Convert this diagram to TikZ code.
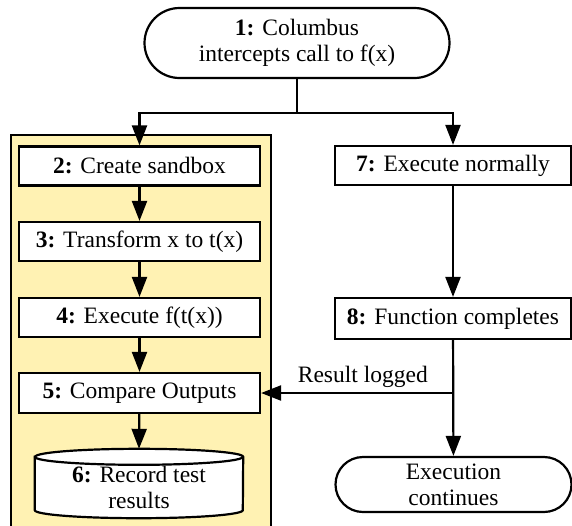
\documentclass[tikz,border=0pt]{standalone}
\usepackage{fontspec}
\setmainfont{Liberation Serif}
\usetikzlibrary{arrows.meta,shapes.misc,calc}

\definecolor{panelyellow}{HTML}{FFF2B3}

\tikzset{
  every node/.style={font=\fontsize{23.5}{26}\selectfont, align=center, inner sep=0pt},
  line/.style={line width=2.2pt},
  arrow/.style={line, -{Triangle[length=20pt,width=15pt]}},
  procbox/.style={draw, line width=2.2pt, fill=white, minimum width=241pt, minimum height=39pt},
  sidebox/.style={draw, line width=2.2pt, fill=white, minimum width=236pt, minimum height=39pt},
  terminal/.style={draw, line width=2.2pt, fill=white, rounded rectangle},
  sandbox/.style={draw, line width=2.2pt, fill=panelyellow, minimum width=260pt, minimum height=410pt},
}

\begin{document}
\begin{tikzpicture}[x=1pt,y=1pt]
\useasboundingbox (0,0) rectangle (572,-525);

% sandboxed branch background
\node[sandbox] (panel) at (141,-340) {};

% start terminal
\node[terminal, minimum width=305pt, minimum height=70pt] (n1) at (297,-43)
  {\textbf{1:} Columbus\\intercepts call to f(x)};

% sandboxed steps
\node[procbox] (n2) at (139.5,-166)   {\textbf{2:} Create sandbox};
\node[procbox] (n3) at (139.5,-241.5) {\textbf{3:} Transform x to t(x)};
\node[procbox] (n4) at (139.5,-317.5) {\textbf{4:} Execute f(t(x))};
\node[procbox, minimum height=40pt] (n5) at (139.5,-393) {\textbf{5:} Compare Outputs};

% record store (cylinder)
\node[minimum width=208pt, minimum height=69pt] (n6) at (139,-483.5) {};
\draw[line, fill=white]
  ($(n6.north west)+(0,-8)$) -- ($(n6.south west)+(0,8)$)
  arc[start angle=180, end angle=360, x radius=104, y radius=8]
  -- ($(n6.north east)+(0,-8)$)
  arc[start angle=0, end angle=180, x radius=104, y radius=8] -- cycle;
\draw[line] ($(n6.north west)+(0,-8)$)
  arc[start angle=180, end angle=360, x radius=104, y radius=8];
\node (n6t) at (139,-487) {\textbf{6:} Record test\\results};

% normal branch
\node[sidebox] (n7) at (453,-165.5) {\textbf{7:} Execute normally};
\node[sidebox, minimum height=41pt] (n8) at (453,-318.5) {\textbf{8:} Function completes};
\node[terminal, minimum width=236pt, minimum height=55pt] (n9) at (453.5,-484.5)
  {Execution\\continues};

% connectors
\coordinate (j1) at (297,-113);
\coordinate (j2) at (453,-393);
\draw[line] (n1.south) -- (j1);
\draw[arrow] (j1) -| (n2.north);
\draw[arrow] (j1) -| (n7.north);
\draw[arrow] (n2) -- (n3);
\draw[arrow] (n3) -- (n4);
\draw[arrow] (n4) -- (n5);
\draw[arrow] (n5) -- (n6.north);
\draw[arrow] (n7) -- (n8);
\draw[arrow] (n8) -- (n9);
\draw[arrow] (j2) -- node[above=4pt, pos=0.47] (lbl) {Result logged} (n5.east);
\end{tikzpicture}
\end{document}
